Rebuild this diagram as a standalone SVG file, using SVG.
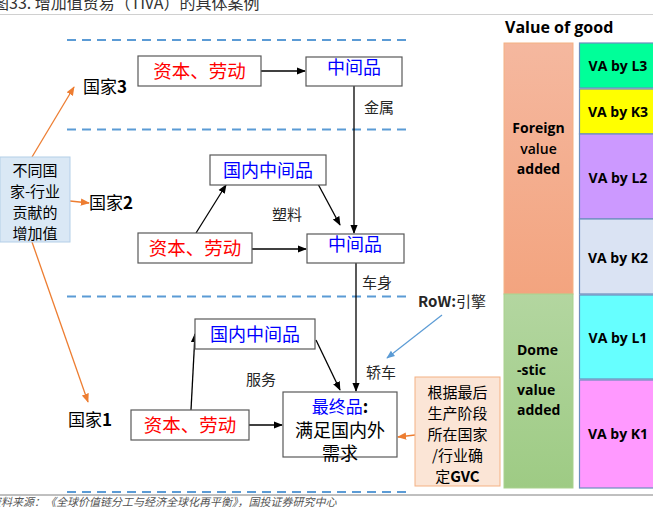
<svg xmlns="http://www.w3.org/2000/svg" width="653" height="510" viewBox="0 0 653 510">
<defs>
<marker id="ab" viewBox="0 0 10 10" refX="9" refY="5" markerWidth="7" markerHeight="7" orient="auto"><path d="M0,1 L10,5 L0,9 z" fill="#000"/></marker>
<marker id="ao" viewBox="0 0 10 10" refX="9" refY="5" markerWidth="7" markerHeight="7" orient="auto"><path d="M0,1 L10,5 L0,9 z" fill="#ed7d31"/></marker>
<marker id="au" viewBox="0 0 10 10" refX="9" refY="5" markerWidth="7" markerHeight="7" orient="auto"><path d="M0,1 L10,5 L0,9 z" fill="#5b9bd5"/></marker>
<linearGradient id="fg" x1="0" y1="0" x2="0" y2="1"><stop offset="0" stop-color="#f5b89f"/><stop offset="1" stop-color="#f3a47f"/></linearGradient>
<linearGradient id="dg" x1="0" y1="0" x2="0" y2="1"><stop offset="0" stop-color="#b3d6a0"/><stop offset="1" stop-color="#9ecb84"/></linearGradient>
</defs>
<style>
text{font-family:"Noto Sans CJK SC","Liberation Sans",sans-serif;}
.box{fill:#fff;stroke:#595959;stroke-width:1.2;}
.red{fill:#ff0000;font-size:18.5px;}
.blue{fill:#0000ff;font-size:18px;}
.lbl{fill:#262626;font-size:15px;}
.cty{fill:#000;font-size:17px;}
.dash{stroke:#5b9bd5;stroke-width:2.2;stroke-dasharray:9,6;fill:none;}
.ln{stroke:#000;stroke-width:1.3;fill:none;}
.or{stroke:#ed7d31;stroke-width:1.3;fill:none;}
.va{font-family:"Open Sans","Liberation Sans",sans-serif;font-size:14px;font-weight:bold;fill:#000;text-anchor:middle;}
.cell{stroke:#6c8ebf;stroke-width:1.2;}
</style>
<rect width="653" height="510" fill="#fff"/>
<text x="-7" y="9" style="font-size:16px;fill:#333">图33. 增加值贸易（TiVA）的具体案例</text>
<line x1="0" y1="14.5" x2="653" y2="14.5" stroke="#d0d0d0" stroke-width="1"/>
<line x1="0" y1="495" x2="653" y2="495" stroke="#808080" stroke-width="1"/>
<text x="-10" y="506" style="font-size:11px;fill:#555;font-style:italic">资料来源：《全球价值链分工与经济全球化再平衡》，国投证券研究中心</text>

<g id="dashes">
<line class="dash" x1="67" y1="40" x2="406" y2="40"/>
<line class="dash" x1="67" y1="129.5" x2="406" y2="129.5"/>
<line class="dash" x1="67" y1="296.5" x2="406" y2="296.5"/>
<line class="dash" x1="67" y1="492" x2="406" y2="492"/>
</g>

<g id="connectors">
<line class="ln" x1="261" y1="71" x2="305" y2="71" marker-end="url(#ab)"/>
<line class="ln" x1="354" y1="86" x2="354" y2="233" marker-end="url(#ab)"/>
<line class="ln" x1="252" y1="249" x2="306" y2="249" marker-end="url(#ab)"/>
<line class="ln" x1="196" y1="233" x2="226" y2="185" marker-end="url(#ab)"/>
<line class="ln" x1="318" y1="184" x2="340" y2="225" marker-end="url(#ab)"/>
<line class="ln" x1="356" y1="263" x2="356" y2="391" marker-end="url(#ab)"/>
<line class="ln" x1="191" y1="410" x2="195" y2="334" marker-end="url(#ab)"/>
<line class="ln" x1="316" y1="340" x2="340" y2="390" marker-end="url(#ab)"/>
<line class="ln" x1="249" y1="425" x2="282" y2="425" marker-end="url(#ab)"/>
<line class="or" x1="32" y1="157" x2="74" y2="87" marker-end="url(#ao)"/>
<line class="or" x1="70" y1="201" x2="89" y2="203" marker-end="url(#ao)"/>
<line class="or" x1="32" y1="242" x2="88" y2="402" marker-end="url(#ao)"/>
<line class="or" x1="415" y1="435" x2="398" y2="437" marker-end="url(#ao)"/>
<line x1="442" y1="315" x2="387" y2="358" stroke="#5b9bd5" stroke-width="1.2" marker-end="url(#au)"/>
</g>

<g id="labels">
<text class="lbl" x="364" y="113">金属</text>
<text class="lbl" x="272" y="220">塑料</text>
<text class="lbl" x="362" y="288">车身</text>
<text class="lbl" x="246" y="385">服务</text>
<text class="lbl" x="366" y="378">轿车</text>
<text x="418" y="307" style="font-size:15px;fill:#262626;font-weight:bold">RoW:<tspan font-weight="normal">引擎</tspan></text>
</g>

<g id="country3"><text class="cty" x="83" y="93">国家<tspan font-weight="bold">3</tspan></text></g>
<g id="country2"><text class="cty" x="89" y="209">国家<tspan font-weight="bold">2</tspan></text></g>
<g id="country1"><text class="cty" x="68" y="426">国家<tspan font-weight="bold">1</tspan></text></g>

<g id="source-box">
<rect x="0" y="157" width="70" height="85" fill="#dae8f5" stroke="#b4cfe8" stroke-width="1"/>
<text x="35" y="176" text-anchor="middle" style="font-size:15px;fill:#000">不同国</text>
<text x="35" y="197" text-anchor="middle" style="font-size:15px;fill:#000">家-行业</text>
<text x="35" y="218" text-anchor="middle" style="font-size:15px;fill:#000">贡献的</text>
<text x="35" y="239" text-anchor="middle" style="font-size:15px;fill:#000">增加值</text>
</g>

<g id="kl3"><rect class="box" x="138" y="56" width="123" height="30"/><text class="red" x="199.5" y="78" text-anchor="middle">资本、劳动</text></g>
<g id="mid3"><rect class="box" x="306" y="57" width="96" height="29"/><text class="blue" x="354" y="74" text-anchor="middle">中间品</text></g>
<g id="dom2"><rect class="box" x="210" y="155" width="116" height="30"/><text class="blue" x="268" y="177" text-anchor="middle">国内中间品</text></g>
<g id="kl2"><rect class="box" x="138" y="233" width="114" height="30"/><text class="red" x="195" y="255" text-anchor="middle">资本、劳动</text></g>
<g id="mid2"><rect class="box" x="307" y="234" width="97" height="29"/><text class="blue" x="355" y="251" text-anchor="middle">中间品</text></g>
<g id="dom1"><rect class="box" x="195" y="319" width="120" height="30"/><text class="blue" x="255" y="341" text-anchor="middle">国内中间品</text></g>
<g id="kl1"><rect class="box" x="131" y="410" width="118" height="30"/><text class="red" x="190" y="432" text-anchor="middle">资本、劳动</text></g>
<g id="final"><rect class="box" x="283" y="392" width="114" height="65"/>
<text x="340" y="413" text-anchor="middle" style="font-size:17px"><tspan fill="#0000ff">最终品</tspan><tspan fill="#000" font-weight="bold">:</tspan></text>
<text x="340" y="437" text-anchor="middle" style="font-size:18px;fill:#000">满足国内外</text>
<text x="340" y="460" text-anchor="middle" style="font-size:18px;fill:#000">需求</text></g>

<g id="gvc-note">
<rect x="415" y="377" width="85" height="109" fill="#fbe5d6" stroke="#f4b183" stroke-width="1"/>
<text x="457.5" y="398" text-anchor="middle" style="font-size:15px;fill:#000">根据最后</text>
<text x="457.5" y="419" text-anchor="middle" style="font-size:15px;fill:#000">生产阶段</text>
<text x="457.5" y="440" text-anchor="middle" style="font-size:15px;fill:#000">所在国家</text>
<text x="457.5" y="461" text-anchor="middle" style="font-size:15px;fill:#000">/行业确</text>
<text x="457.5" y="482" text-anchor="middle" style="font-size:15px;fill:#000">定<tspan font-weight="bold">GVC</tspan></text>
</g>

<g id="value-of-good">
<text x="505" y="33" style="font-family:'Open Sans','Liberation Sans',sans-serif;font-size:16px;font-weight:bold;fill:#000">Value of good</text>
<rect x="504" y="43" width="69" height="251" fill="url(#fg)" stroke="#f4b183" stroke-width="1"/>
<text class="va" x="538.5" y="133">Foreign</text>
<text class="va" x="538.5" y="154" style="font-weight:600">value</text>
<text class="va" x="538.5" y="174">added</text>
<rect x="504" y="294" width="69" height="194" fill="url(#dg)" stroke="#a9d18e" stroke-width="1"/>
<text class="va" x="517" y="355" style="text-anchor:start">Dome</text>
<text class="va" x="517" y="375" style="text-anchor:start">-stic</text>
<text class="va" x="517" y="395" style="text-anchor:start">value</text>
<text class="va" x="517" y="415" style="text-anchor:start">added</text>
<rect class="cell" x="579.5" y="43" width="80" height="45" fill="#00ff99"/>
<text class="va" x="618" y="71">VA by L3</text>
<rect class="cell" x="579.5" y="89" width="80" height="45" fill="#ffff00"/>
<text class="va" x="618" y="117">VA by K3</text>
<rect class="cell" x="579.5" y="134" width="80" height="85" fill="#cc99ff"/>
<text class="va" x="618" y="183">VA by L2</text>
<rect class="cell" x="579.5" y="219" width="80" height="75" fill="#dae3f3"/>
<text class="va" x="618" y="263">VA by K2</text>
<rect class="cell" x="579.5" y="295" width="80" height="84" fill="#66ffff"/>
<text class="va" x="618" y="343">VA by L1</text>
<rect class="cell" x="579.5" y="380" width="80" height="108" fill="#ff99ff"/>
<text class="va" x="618" y="439">VA by K1</text>
</g>
</svg>
